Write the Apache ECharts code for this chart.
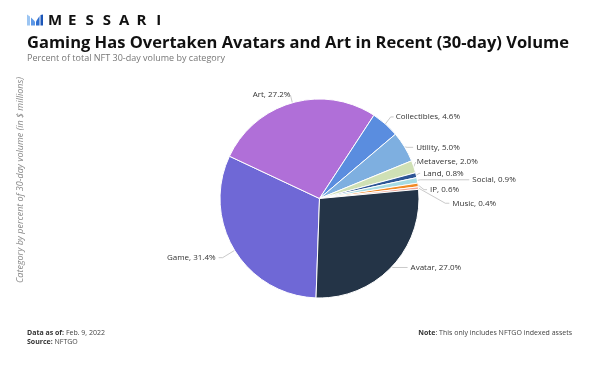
<!DOCTYPE html>
<html><head><meta charset="utf-8">
<script src="https://cdn.jsdelivr.net/npm/echarts@6/dist/echarts.min.js"></script>
<style>html,body{margin:0;padding:0;background:#fff}#c{width:589px;height:368px}</style>
</head><body><div id="c"></div>
<script>
// ---- data ----
const categories = ['Game', 'Art', 'Collectibles', 'Utility', 'Metaverse', 'Land', 'Social', 'IP', 'Music', 'Avatar'];
const shares = [31.4, 27.2, 4.6, 5.0, 2.0, 0.8, 0.9, 0.6, 0.4, 27.0];

// ---- styles ----
const palette = ['#6f68d6', '#b06fd8', '#5a8ddf', '#7eafe0', '#cfe0b5', '#2d5595', '#a6dbe3', '#f28a25', '#f3a391', '#243447'];
const labelTweaks = {
  Game:        { len: 14, len2: 4, dist: 3, dy: 0 },
  Art:         { len: 7, len2: 0, dist: 0, dy: -1 },
  Collectibles:{ len: 8, len2: 3, dist: 2, dy: -1 },
  Utility:     { len: 3, len2: 6, dist: 3, dy: 2 },
  Metaverse:   { len: 2, len2: 0, dist: 1, dy: -4 },
  Land:        { len: 3, len2: 1, dist: 3, dy: -1 },
  Social:      { len: 3, len2: 49, dist: 3, dy: 0 },
  IP:          { len: 6, len2: 3, dist: 3, dy: 5.5 },
  Music:       { len: 27, len2: 4, dist: 3, dy: 18 },
  Avatar:      { len: 1, len2: 15, dist: 3, dy: 0 }
};

const seriesData = categories.map((name, i) => {
  const t = labelTweaks[name];
  return {
    name, value: shares[i],
    itemStyle: { color: palette[i] },
    label: { distanceToLabelLine: t.dist },
    labelLine: { length: t.len, length2: t.len2 }
  };
});

const chart = echarts.init(document.getElementById('c'), null, { renderer: 'canvas' });
const F = '"Open Sans", "DejaVu Sans", sans-serif';
const letters = 'MESSARI'.split('');
const T = (x, y, text, font, fill, align, extra) => Object.assign({
  type: 'text', x, y,
  style: Object.assign({ text, font, fill, align, verticalAlign: 'middle', textAlign: align, textVerticalAlign: 'middle' }, extra || {})
});
const richB = { b: { fontWeight: 'bold', fontSize: 7, fontFamily: F, fill: '#333', color: '#333' } };

chart.setOption({
  animation: false,
  backgroundColor: '#ffffff',
  graphic: [
    // logo mark
    { type: 'polygon', shape: { points: [[27, 14.5], [30, 16.5], [30, 25.5], [27, 25.5]] }, style: { fill: '#9cc5f2' } },
    { type: 'polygon', shape: { points: [[31, 17.5], [35, 21.5], [35, 25.5], [31, 25.5]] }, style: { fill: '#5d98e6' } },
    { type: 'polygon', shape: { points: [[36, 21.5], [39.5, 16], [39.5, 25.5], [36, 25.5]] }, style: { fill: '#2f6fd0' } },
    { type: 'polygon', shape: { points: [[40.5, 15], [43, 14.5], [43, 25.5], [40.5, 25.5]] }, style: { fill: '#1b56b8' } },
    ...letters.map((ch, i) => T(55 + i * 17.3, 20.5, ch, 'bold 15px ' + F, '#111', 'center')),
    T(27, 43, 'Gaming Has Overtaken Avatars and Art in Recent (30-day) Volume', 'bold 16.5px ' + F, '#111', 'left'),
    T(27, 58.5, 'Percent of total NFT 30-day volume by category', '9px ' + F, '#777', 'left'),
    Object.assign(T(20, 180, 'Category by percent of 30-day volume (in $ millions)', 'italic 9px ' + F, '#888', 'center'), { rotation: Math.PI / 2 }),
    T(27, 333, '{b|Data as of:} Feb. 9, 2022', '7px ' + F, '#444', 'left', { rich: richB }),
    T(27, 341.5, '{b|Source:} NFTGO', '7px ' + F, '#444', 'left', { rich: richB }),
    T(572, 333, '{b|Note}: This only includes NFTGO indexed assets', '7px ' + F, '#444', 'right', { rich: richB })
  ],
  series: [{
    type: 'pie',
    center: [319.5, 198.5],
    radius: 99.5,
    startAngle: 268,
    clockwise: true,
    avoidLabelOverlap: false,
    itemStyle: { borderColor: '#ffffff', borderWidth: 1 },
    label: {
      show: true, position: 'outside',
      fontFamily: F, fontSize: 8, color: '#333',
      formatter: p => p.name + ', ' + Number(p.value).toFixed(1) + '%'
    },
    labelLine: { show: true, lineStyle: { color: '#bdbdbd', width: 0.8 }, smooth: false },
    labelLayout: function (params) {
      const t = labelTweaks[categories[params.dataIndex]];
      const p = params.labelLinePoints;
      if (!t || !t.dy || !p) return {};
      return {
        dy: t.dy,
        labelLinePoints: [p[0], [p[1][0], p[1][1] + t.dy], [p[2][0], p[2][1] + t.dy]]
      };
    },
    emphasis: { disabled: true },
    data: seriesData
  }]
});
</script>
</body></html>
